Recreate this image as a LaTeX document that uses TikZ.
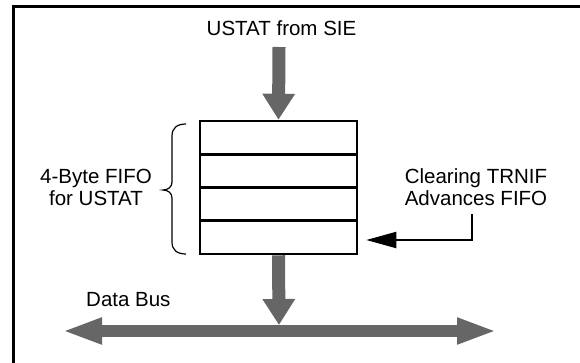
\documentclass[tikz,border=0pt]{standalone}
\usepackage{fontspec}
\setmainfont{Liberation Sans}
\usetikzlibrary{arrows.meta}
\definecolor{arrowgray}{RGB}{102,102,102}
\tikzset{
  lbl/.style={font=\fontsize{20.5}{22.3}\selectfont, inner sep=0pt, align=center},
  fiforow/.style={draw=black, line width=2.5pt, minimum width=157pt, minimum height=33.25pt, inner sep=0pt},
  bigarrow/.style={draw=arrowgray, line width=13pt, -{Triangle[length=26pt,width=31pt]}},
  busarrow/.style={draw=arrowgray, line width=11.5pt, {Triangle[length=40pt,width=24pt]}-{Triangle[length=40pt,width=24pt]}},
  ctrlarrow/.style={draw=black, line width=2pt, -{Triangle[length=30pt,width=16pt]}},
  frame/.style={draw=black, line width=3pt}
}
\begin{document}
\begin{tikzpicture}[x=1pt,y=-1pt]
  \useasboundingbox (0,0) rectangle (580,362);
  \draw[frame] (13.5,6.5) rectangle (600,380);
  % FIFO rows
  \node[fiforow] (r1) at (278.5,137.6) {};
  \node[fiforow] (r2) at (278.5,170.9) {};
  \node[fiforow] (r3) at (278.5,204.1) {};
  \node[fiforow] (r4) at (278.5,237.4) {};
  % labels
  \node[lbl, anchor=base] (src) at (281.5,35.7) {USTAT from SIE};
  \node[lbl, anchor=base] (fifolbl) at (96,205.5) {4-Byte FIFO\\for USTAT};
  \node[lbl, anchor=base] (note) at (476,205.5) {Clearing TRNIF\\Advances FIFO};
  \node[lbl, anchor=base west] (buslbl) at (86,306.5) {Data Bus};
  % coordinates
  \coordinate (srcend) at (279,47);
  \coordinate (bustop) at (279,325);
  \coordinate (busL) at (62,331);
  \coordinate (busR) at (497,331);
  \coordinate (ctrl) at (472,214);
  % arrows
  \draw[bigarrow] (srcend) -- (r1.north);
  \draw[bigarrow] (r4.south) -- (bustop);
  \draw[busarrow] (busL) -- (busR);
  \draw[ctrlarrow] (ctrl) |- ([xshift=8pt,yshift=-2.6pt]r4.east);
  % brace
  \draw[line width=1.2pt] (186,124) .. controls (177,124) and (172,128) .. (172,136)
     -- (172,182) .. controls (172,187) and (168,190) .. (163,190)
     .. controls (168,190) and (172,193) .. (172,198)
     -- (172,242) .. controls (172,250) and (177,254) .. (186,254);
\end{tikzpicture}
\end{document}
